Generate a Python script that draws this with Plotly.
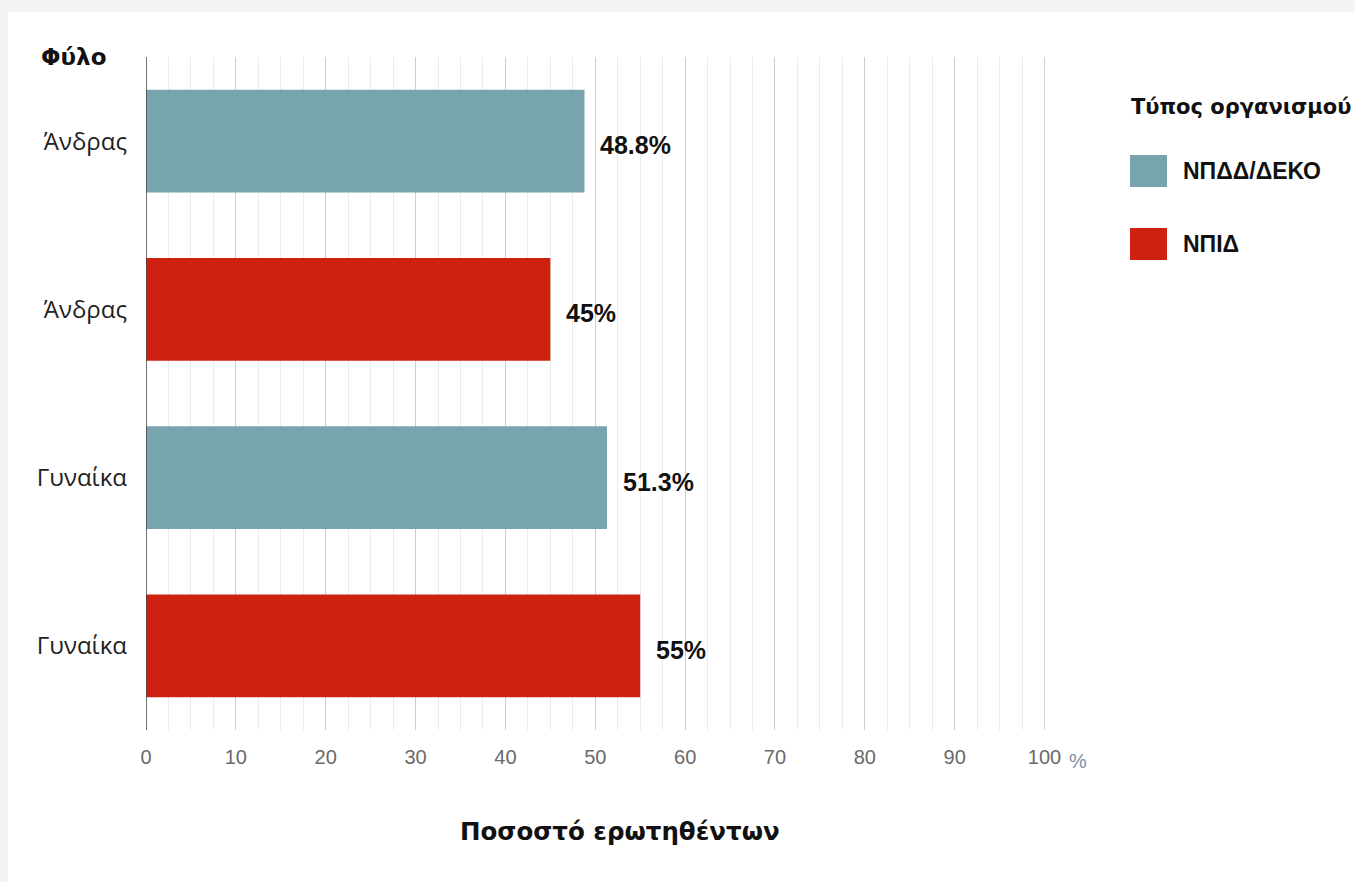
import plotly.graph_objects as go

# ---- data ----
categories = ["Άνδρας", "Άνδρας", "Γυναίκα", "Γυναίκα"]
series_names = ["ΝΠΔΔ/ΔΕΚΟ", "ΝΠΙΔ"]
series_positions = [[0, 2], [1, 3]]
series_values = [[48.8, 51.3], [45, 55]]
value_labels = [["48.8%", "51.3%"], ["45%", "55%"]]
x_ticks = [0, 10, 20, 30, 40, 50, 60, 70, 80, 90, 100]

# ---- style ----
colors = ["#77A4AE", "#CD2210"]
W, H = 1355, 882
ML, MR, MT, MB = 146, 310, 57, 152
PW, PH = W - ML - MR, H - MT - MB

def px_x(p):
    return (p - ML) / PW

def px_y(p):
    return 1 - (p - MT) / PH

fig = go.Figure()
for name, pos, vals, col in zip(series_names, series_positions, series_values, colors):
    fig.add_trace(go.Bar(
        x=vals, y=pos, orientation="h", name=name,
        marker=dict(color=col, line=dict(width=0)),
        width=0.61, showlegend=False, hoverinfo="x+y"))

annotations = []
for pos, vals, labs in zip(series_positions, series_values, value_labels):
    for p, v, t in zip(pos, vals, labs):
        annotations.append(dict(
            x=v, y=p, xref="x", yref="y", text="<b>" + t + "</b>", showarrow=False,
            xanchor="left", yanchor="middle", xshift=14, yshift=-4,
            font=dict(family="Liberation Sans, Arial", size=25, color="#111111")))

# axis / legend texts
annotations += [
    dict(x=px_x(39), y=px_y(57), xref="paper", yref="paper", text="<b>Φύλο</b>",
         showarrow=False, xanchor="left", yanchor="middle",
         font=dict(family="DejaVu Sans", size=23, color="#111111")),
    dict(x=px_x(620), y=px_y(832), xref="paper", yref="paper",
         text="<b>Ποσοστό ερωτηθέντων</b>", showarrow=False,
         xanchor="center", yanchor="middle",
         font=dict(family="DejaVu Sans", size=24.5, color="#111111")),
    dict(x=px_x(1067), y=px_y(761), xref="paper", yref="paper", text="%",
         showarrow=False, xanchor="left", yanchor="middle",
         font=dict(family="Liberation Sans, Arial", size=20, color="#7d90a6")),
    dict(x=px_x(1129), y=px_y(107), xref="paper", yref="paper",
         text="<b>Τύπος οργανισμού</b>", showarrow=False,
         xanchor="left", yanchor="middle",
         font=dict(family="DejaVu Sans", size=21, color="#111111")),
]

shapes = [
    dict(type="rect", xref="paper", yref="paper", layer="below",
         x0=px_x(8), x1=px_x(W + 5), y0=px_y(H + 5), y1=px_y(12),
         fillcolor="white", line=dict(width=0)),
]
legend_y = [171, 244]
for name, col, ly in zip(series_names, colors, legend_y):
    shapes.append(dict(type="rect", xref="paper", yref="paper",
                       x0=px_x(1130), x1=px_x(1167), y0=px_y(ly + 16), y1=px_y(ly - 16),
                       fillcolor=col, line=dict(width=0)))
    annotations.append(dict(x=px_x(1181), y=px_y(ly), xref="paper", yref="paper",
                            text="<b>" + name + "</b>", showarrow=False,
                            xanchor="left", yanchor="middle",
                            font=dict(family="Liberation Sans, Arial", size=23, color="#111111")))

# gridline at the right edge of the axis (100)
shapes.append(dict(type="line", xref="x", yref="paper", layer="below",
                   x0=x_ticks[-1], x1=x_ticks[-1], y0=0, y1=1,
                   line=dict(color="#d0d0d0", width=1)))

fig.update_layout(
    width=W, height=H,
    margin=dict(l=ML, r=MR, t=MT, b=MB, pad=0),
    paper_bgcolor="#f3f3f3", plot_bgcolor="rgba(0,0,0,0)",
    bargap=0.39,
    annotations=annotations, shapes=shapes,
    showlegend=False,
    xaxis=dict(range=[0, 100.05], tickvals=x_ticks, ticks="", showline=False,
               showgrid=True, gridcolor="#cecece", gridwidth=1,
               zeroline=False, ticklabelstandoff=13,
               minor=dict(dtick=2.5, showgrid=True, gridcolor="#ebebeb", gridwidth=1),
               tickfont=dict(family="Liberation Sans, Arial", size=20, color="#6a6a6a")),
    yaxis=dict(range=[3.5, -0.5], tickvals=list(range(len(categories))),
               ticktext=categories, showgrid=False, zeroline=False,
               ticks="", ticklabelstandoff=18,
               tickfont=dict(family="Open Sans", size=24, color="#222222")),
)
fig.add_shape(type="line", xref="x", yref="paper", x0=0, x1=0, y0=0, y1=1,
              line=dict(color="#444444", width=1.5))

fig.write_html("out.html")
